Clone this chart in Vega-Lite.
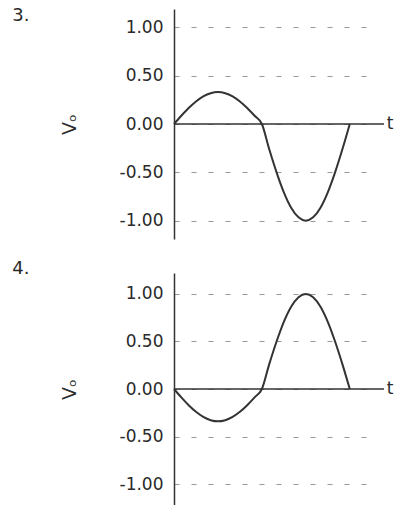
{
  "$schema": "https://vega.github.io/schema/vega-lite/v6.json",
  "padding": {"left": 12, "top": 6, "right": 0, "bottom": 0},
  "background": "white",
  "spacing": 21,
  "config": {
    "view": {"stroke": null},
    "font": "DejaVu Sans",
    "axisY": {
      "values": [-1, -0.5, 0, 0.5, 1],
      "labelExpr": "(datum.value < 0 ? '-' : '') + format(abs(datum.value), '.2f')",
      "grid": true,
      "gridDash": [5, 12],
      "gridColor": "#999999",
      "gridWidth": 1,
      "domainColor": "#333333",
      "domainWidth": 1.5,
      "ticks": false,
      "labelPadding": 11,
      "labelFontSize": 17,
      "labelColor": "#2a2a2a",
      "titleFontSize": 19,
      "titleFontWeight": "normal",
      "titleColor": "#2a2a2a",
      "titlePadding": 40
    }
  },
  "datasets": {
    "wave3": [
      {"t": 0, "v": 0}, {"t": 0.083, "v": 0.085}, {"t": 0.167, "v": 0.165},
      {"t": 0.25, "v": 0.233}, {"t": 0.333, "v": 0.286}, {"t": 0.417, "v": 0.319},
      {"t": 0.5, "v": 0.33}, {"t": 0.583, "v": 0.319}, {"t": 0.667, "v": 0.286},
      {"t": 0.75, "v": 0.233}, {"t": 0.833, "v": 0.165}, {"t": 0.917, "v": 0.085},
      {"t": 1, "v": 0}, {"t": 1.083, "v": -0.259}, {"t": 1.167, "v": -0.5},
      {"t": 1.25, "v": -0.707}, {"t": 1.333, "v": -0.866}, {"t": 1.417, "v": -0.966},
      {"t": 1.5, "v": -1}, {"t": 1.583, "v": -0.966}, {"t": 1.667, "v": -0.866},
      {"t": 1.75, "v": -0.707}, {"t": 1.833, "v": -0.5}, {"t": 1.917, "v": -0.259},
      {"t": 2, "v": 0}
    ],
    "wave4": [
      {"t": 0, "v": 0}, {"t": 0.083, "v": -0.088}, {"t": 0.167, "v": -0.17},
      {"t": 0.25, "v": -0.24}, {"t": 0.333, "v": -0.294}, {"t": 0.417, "v": -0.328},
      {"t": 0.5, "v": -0.34}, {"t": 0.583, "v": -0.328}, {"t": 0.667, "v": -0.294},
      {"t": 0.75, "v": -0.24}, {"t": 0.833, "v": -0.17}, {"t": 0.917, "v": -0.088},
      {"t": 1, "v": 0}, {"t": 1.083, "v": 0.259}, {"t": 1.167, "v": 0.5},
      {"t": 1.25, "v": 0.707}, {"t": 1.333, "v": 0.866}, {"t": 1.417, "v": 0.966},
      {"t": 1.5, "v": 1}, {"t": 1.583, "v": 0.966}, {"t": 1.667, "v": 0.866},
      {"t": 1.75, "v": 0.707}, {"t": 1.833, "v": 0.5}, {"t": 1.917, "v": 0.259},
      {"t": 2, "v": 0}
    ],
    "labels3": [{"name": "3."}],
    "labels4": [{"name": "4."}]
  },
  "vconcat": [
    {
      "width": 203,
      "height": 230,
      "layer": [
        {
          "data": {"name": "wave3"},
          "mark": {"type": "line", "interpolate": "monotone", "color": "#333333", "strokeWidth": 2},
          "encoding": {
            "x": {"field": "t", "type": "quantitative", "scale": {"domain": [0, 2.31], "nice": false, "zero": false}, "axis": null},
            "y": {"field": "v", "type": "quantitative", "scale": {"domain": [-1.19, 1.19], "nice": false}, "title": "Vₒ"}
          }
        },
        {
          "data": {"name": "labels3"},
          "mark": {"type": "rule", "color": "#333333", "strokeWidth": 1.5},
          "encoding": {"y": {"datum": 0}, "x": {"datum": 0}, "x2": {"datum": 2.39}}
        },
        {
          "data": {"name": "labels3"},
          "mark": {"type": "text", "text": "t", "align": "left", "baseline": "middle", "fontSize": 17, "color": "#2a2a2a"},
          "encoding": {"x": {"datum": 2.42}, "y": {"datum": 0}}
        },
        {
          "data": {"name": "labels3"},
          "mark": {"type": "text", "align": "left", "baseline": "middle", "fontSize": 18, "color": "#2a2a2a"},
          "encoding": {"text": {"field": "name"}, "x": {"datum": -1.84}, "y": {"datum": 1.12}}
        }
      ]
    },
    {
      "width": 203,
      "height": 232,
      "layer": [
        {
          "data": {"name": "wave4"},
          "mark": {"type": "line", "interpolate": "monotone", "color": "#333333", "strokeWidth": 2},
          "encoding": {
            "x": {"field": "t", "type": "quantitative", "scale": {"domain": [0, 2.31], "nice": false, "zero": false}, "axis": null},
            "y": {"field": "v", "type": "quantitative", "scale": {"domain": [-1.22, 1.22], "nice": false}, "title": "Vₒ"}
          }
        },
        {
          "data": {"name": "labels4"},
          "mark": {"type": "rule", "color": "#333333", "strokeWidth": 1.5},
          "encoding": {"y": {"datum": 0}, "x": {"datum": 0}, "x2": {"datum": 2.39}}
        },
        {
          "data": {"name": "labels4"},
          "mark": {"type": "text", "text": "t", "align": "left", "baseline": "middle", "fontSize": 17, "color": "#2a2a2a"},
          "encoding": {"x": {"datum": 2.42}, "y": {"datum": 0}}
        },
        {
          "data": {"name": "labels4"},
          "mark": {"type": "text", "align": "left", "baseline": "middle", "fontSize": 18, "color": "#2a2a2a"},
          "encoding": {"text": {"field": "name"}, "x": {"datum": -1.84}, "y": {"datum": 1.26}}
        }
      ]
    }
  ]
}
